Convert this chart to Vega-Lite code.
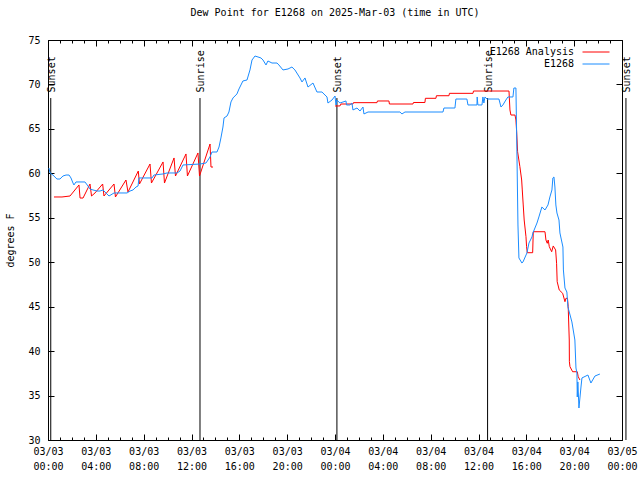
{
  "$schema": "https://vega.github.io/schema/vega-lite/v6.json",
  "width": 574,
  "height": 400,
  "autosize": "none",
  "padding": {"left": 48, "top": 40, "right": 18, "bottom": 40},
  "background": "white",
  "title": {"text": "Dew Point for E1268 on 2025-Mar-03 (time in UTC)", "font": "DejaVu Sans Mono", "fontSize": 10, "fontWeight": "normal", "anchor": "middle", "offset": 17, "color": "black"},
  "config": {
    "view": {"stroke": "black", "strokeWidth": 1},
    "axis": {"grid": false, "domain": false, "tickColor": "black", "tickWidth": 1, "labelColor": "black", "labelFont": "DejaVu Sans Mono", "labelFontSize": 10, "titleFont": "DejaVu Sans Mono", "titleFontSize": 10, "titleFontWeight": "normal", "titleColor": "black", "labelFlush": false, "labelOverlap": false, "labelBound": false},
    "legend": {"labelFont": "DejaVu Sans Mono", "labelFontSize": 10, "labelColor": "black"}
  },
  "datasets": {
    "sun": [
      {"t": 0.23, "label": "Sunset"},
      {"t": 12.71, "label": "Sunrise"},
      {"t": 24.16, "label": "Sunset"},
      {"t": 36.76, "label": "Sunrise"},
      {"t": 48.33, "label": "Sunset"}
    ],
    "ana": [
      {"seg": "a", "t": 0.50, "v": 57.34},
      {"seg": "a", "t": 1.17, "v": 57.34},
      {"seg": "a", "t": 1.84, "v": 57.45},
      {"seg": "a", "t": 2.59, "v": 58.69},
      {"seg": "a", "t": 2.68, "v": 57.22},
      {"seg": "a", "t": 2.93, "v": 57.22},
      {"seg": "a", "t": 3.51, "v": 58.80},
      {"seg": "a", "t": 3.64, "v": 57.45},
      {"seg": "a", "t": 3.93, "v": 57.79},
      {"seg": "a", "t": 4.57, "v": 58.80},
      {"seg": "a", "t": 4.68, "v": 57.45},
      {"seg": "a", "t": 5.52, "v": 58.80},
      {"seg": "a", "t": 5.64, "v": 57.34},
      {"seg": "a", "t": 6.52, "v": 59.25},
      {"seg": "a", "t": 6.69, "v": 57.90},
      {"seg": "a", "t": 7.55, "v": 60.26},
      {"seg": "a", "t": 7.65, "v": 58.80},
      {"seg": "a", "t": 8.53, "v": 61.05},
      {"seg": "a", "t": 8.65, "v": 58.91},
      {"seg": "a", "t": 9.62, "v": 61.28},
      {"seg": "a", "t": 9.74, "v": 58.91},
      {"seg": "a", "t": 10.54, "v": 61.73},
      {"seg": "a", "t": 10.66, "v": 59.70},
      {"seg": "a", "t": 11.54, "v": 62.18},
      {"seg": "a", "t": 11.66, "v": 59.70},
      {"seg": "a", "t": 12.54, "v": 62.29},
      {"seg": "a", "t": 12.67, "v": 59.70},
      {"seg": "a", "t": 13.55, "v": 63.30},
      {"seg": "a", "t": 13.63, "v": 60.71},
      {"seg": "a", "t": 13.80, "v": 60.71},
      {"seg": "b", "t": 24.00, "v": 67.58},
      {"seg": "b", "t": 24.41, "v": 67.58},
      {"seg": "b", "t": 24.50, "v": 67.80},
      {"seg": "b", "t": 25.50, "v": 67.80},
      {"seg": "b", "t": 25.54, "v": 67.95},
      {"seg": "b", "t": 27.51, "v": 67.95},
      {"seg": "b", "t": 27.55, "v": 68.14},
      {"seg": "b", "t": 28.51, "v": 68.14},
      {"seg": "b", "t": 28.55, "v": 67.80},
      {"seg": "b", "t": 30.52, "v": 67.80},
      {"seg": "b", "t": 30.56, "v": 67.97},
      {"seg": "b", "t": 31.52, "v": 67.97},
      {"seg": "b", "t": 31.56, "v": 68.44},
      {"seg": "b", "t": 32.44, "v": 68.44},
      {"seg": "b", "t": 32.48, "v": 68.73},
      {"seg": "b", "t": 33.53, "v": 68.73},
      {"seg": "b", "t": 33.57, "v": 69.00},
      {"seg": "b", "t": 35.54, "v": 69.00},
      {"seg": "b", "t": 35.58, "v": 69.26},
      {"seg": "b", "t": 38.55, "v": 69.26},
      {"seg": "b", "t": 38.63, "v": 67.13},
      {"seg": "b", "t": 38.71, "v": 66.56},
      {"seg": "b", "t": 39.05, "v": 66.56},
      {"seg": "b", "t": 39.13, "v": 66.00},
      {"seg": "b", "t": 39.19, "v": 64.68},
      {"seg": "b", "t": 39.27, "v": 62.43},
      {"seg": "b", "t": 39.46, "v": 60.75},
      {"seg": "b", "t": 39.61, "v": 59.25},
      {"seg": "b", "t": 39.66, "v": 58.13},
      {"seg": "b", "t": 39.74, "v": 56.44},
      {"seg": "b", "t": 39.82, "v": 54.75},
      {"seg": "b", "t": 39.97, "v": 52.87},
      {"seg": "b", "t": 40.02, "v": 51.75},
      {"seg": "b", "t": 40.08, "v": 51.07},
      {"seg": "b", "t": 40.53, "v": 51.07},
      {"seg": "b", "t": 40.58, "v": 53.43},
      {"seg": "b", "t": 41.56, "v": 53.43},
      {"seg": "b", "t": 41.64, "v": 52.50},
      {"seg": "b", "t": 41.75, "v": 52.13},
      {"seg": "b", "t": 41.83, "v": 52.50},
      {"seg": "b", "t": 41.92, "v": 51.75},
      {"seg": "b", "t": 42.12, "v": 51.18},
      {"seg": "b", "t": 42.25, "v": 51.83},
      {"seg": "b", "t": 42.45, "v": 51.38},
      {"seg": "b", "t": 42.53, "v": 49.88},
      {"seg": "b", "t": 42.58, "v": 47.81},
      {"seg": "b", "t": 42.75, "v": 46.88},
      {"seg": "b", "t": 43.04, "v": 46.50},
      {"seg": "b", "t": 43.23, "v": 45.56},
      {"seg": "b", "t": 43.31, "v": 45.94},
      {"seg": "b", "t": 43.44, "v": 45.94},
      {"seg": "b", "t": 43.50, "v": 45.00},
      {"seg": "b", "t": 43.59, "v": 41.25},
      {"seg": "b", "t": 43.60, "v": 38.81},
      {"seg": "b", "t": 43.65, "v": 38.25},
      {"seg": "b", "t": 43.87, "v": 37.68},
      {"seg": "b", "t": 44.26, "v": 37.68},
      {"seg": "b", "t": 44.34, "v": 37.12},
      {"seg": "b", "t": 44.48, "v": 36.75}
    ],
    "obs": [
      {"t": 0.08, "v": 60.6}, {"t": 0.17, "v": 60.04}, {"t": 0.42, "v": 59.8}, {"t": 0.75, "v": 59.36},
      {"t": 1.00, "v": 59.36}, {"t": 1.25, "v": 59.7}, {"t": 1.51, "v": 59.81}, {"t": 1.76, "v": 59.81},
      {"t": 1.92, "v": 59.48}, {"t": 2.09, "v": 58.91}, {"t": 2.17, "v": 58.69}, {"t": 2.34, "v": 59.03},
      {"t": 3.09, "v": 59.03}, {"t": 3.34, "v": 58.58}, {"t": 3.51, "v": 58.24}, {"t": 3.76, "v": 58.13},
      {"t": 4.10, "v": 58.01}, {"t": 4.35, "v": 58.01}, {"t": 4.60, "v": 58.13}, {"t": 4.85, "v": 57.79},
      {"t": 5.10, "v": 57.45}, {"t": 5.52, "v": 57.79}, {"t": 6.02, "v": 57.79}, {"t": 6.61, "v": 57.79},
      {"t": 6.86, "v": 58.01}, {"t": 7.11, "v": 58.13}, {"t": 7.36, "v": 58.46}, {"t": 7.53, "v": 58.58},
      {"t": 7.61, "v": 59.48}, {"t": 8.70, "v": 59.48}, {"t": 8.86, "v": 59.81}, {"t": 9.62, "v": 59.93},
      {"t": 9.95, "v": 60.04}, {"t": 10.79, "v": 60.04}, {"t": 11.04, "v": 60.26}, {"t": 11.29, "v": 60.94},
      {"t": 12.71, "v": 61.05}, {"t": 13.21, "v": 61.16}, {"t": 13.38, "v": 61.5}, {"t": 13.55, "v": 61.84},
      {"t": 13.71, "v": 62.4}, {"t": 14.13, "v": 62.4}, {"t": 14.30, "v": 62.96}, {"t": 14.46, "v": 63.98},
      {"t": 14.63, "v": 65.21}, {"t": 14.72, "v": 66.23}, {"t": 14.97, "v": 66.45}, {"t": 15.13, "v": 66.9},
      {"t": 15.30, "v": 68.03}, {"t": 15.47, "v": 68.48}, {"t": 15.80, "v": 68.93}, {"t": 15.97, "v": 69.49},
      {"t": 16.30, "v": 70.39}, {"t": 16.64, "v": 70.5}, {"t": 16.89, "v": 71.63}, {"t": 17.06, "v": 72.75},
      {"t": 17.31, "v": 73.2}, {"t": 17.56, "v": 73.09}, {"t": 17.81, "v": 72.98}, {"t": 17.98, "v": 72.75},
      {"t": 18.23, "v": 72.19}, {"t": 18.39, "v": 72.64}, {"t": 18.73, "v": 72.41}, {"t": 19.15, "v": 72.41},
      {"t": 19.31, "v": 72.19}, {"t": 19.65, "v": 71.63}, {"t": 20.07, "v": 71.74}, {"t": 20.40, "v": 71.96},
      {"t": 20.65, "v": 71.63}, {"t": 21.07, "v": 70.73}, {"t": 21.24, "v": 70.28}, {"t": 21.49, "v": 70.73},
      {"t": 21.74, "v": 69.71}, {"t": 22.16, "v": 70.16}, {"t": 22.49, "v": 69.15}, {"t": 22.91, "v": 69.15},
      {"t": 23.33, "v": 68.59}, {"t": 23.41, "v": 67.91}, {"t": 23.75, "v": 68.25}, {"t": 24.00, "v": 68.7},
      {"t": 24.08, "v": 67.69}, {"t": 24.16, "v": 68.25}, {"t": 24.41, "v": 67.91}, {"t": 24.92, "v": 68.14},
      {"t": 24.96, "v": 67.69}, {"t": 25.25, "v": 67.69}, {"t": 25.42, "v": 67.91}, {"t": 25.50, "v": 67.13},
      {"t": 25.84, "v": 67.35}, {"t": 26.09, "v": 67.01}, {"t": 26.34, "v": 67.46}, {"t": 26.42, "v": 66.68},
      {"t": 26.76, "v": 66.9}, {"t": 29.43, "v": 66.9}, {"t": 29.60, "v": 66.68}, {"t": 29.85, "v": 66.9},
      {"t": 33.03, "v": 66.9}, {"t": 33.11, "v": 67.35}, {"t": 34.03, "v": 67.35}, {"t": 34.11, "v": 68.36},
      {"t": 35.03, "v": 68.36}, {"t": 35.12, "v": 67.69}, {"t": 35.87, "v": 67.69}, {"t": 35.89, "v": 68.59},
      {"t": 35.95, "v": 67.69}, {"t": 36.29, "v": 67.69}, {"t": 36.37, "v": 68.59}, {"t": 36.45, "v": 67.91},
      {"t": 36.54, "v": 68.59}, {"t": 36.71, "v": 68.36}, {"t": 37.71, "v": 68.36}, {"t": 37.88, "v": 67.46},
      {"t": 38.04, "v": 67.69}, {"t": 38.29, "v": 68.25}, {"t": 38.46, "v": 68.59}, {"t": 38.88, "v": 68.59},
      {"t": 38.96, "v": 69.6}, {"t": 39.13, "v": 69.6}, {"t": 39.21, "v": 62.63}, {"t": 39.30, "v": 54.19},
      {"t": 39.38, "v": 50.48}, {"t": 39.63, "v": 49.91}, {"t": 39.72, "v": 50.03}, {"t": 40.05, "v": 51.04},
      {"t": 40.22, "v": 52.16}, {"t": 40.47, "v": 52.84}, {"t": 40.55, "v": 53.29}, {"t": 40.89, "v": 54.41},
      {"t": 41.05, "v": 55.09}, {"t": 41.30, "v": 56.21}, {"t": 41.56, "v": 55.88}, {"t": 41.81, "v": 56.44},
      {"t": 41.97, "v": 57.34}, {"t": 42.14, "v": 58.13}, {"t": 42.22, "v": 59.48}, {"t": 42.31, "v": 59.59},
      {"t": 42.39, "v": 58.46}, {"t": 42.47, "v": 56.44}, {"t": 42.56, "v": 55.54}, {"t": 42.73, "v": 54.75},
      {"t": 42.81, "v": 53.29}, {"t": 43.06, "v": 51.71}, {"t": 43.10, "v": 49.13}, {"t": 43.23, "v": 47.1},
      {"t": 43.39, "v": 46.65}, {"t": 43.48, "v": 44.96}, {"t": 43.81, "v": 43.28}, {"t": 44.06, "v": 41.25},
      {"t": 44.15, "v": 38.1}, {"t": 44.23, "v": 37.54}, {"t": 44.26, "v": 34.84}, {"t": 44.31, "v": 36.53},
      {"t": 44.40, "v": 33.6}, {"t": 44.57, "v": 35.96}, {"t": 44.65, "v": 36.98}, {"t": 45.15, "v": 37.31},
      {"t": 45.40, "v": 36.41}, {"t": 45.74, "v": 37.2}, {"t": 46.15, "v": 37.42}
    ]
  },
  "layer": [
    {
      "data": {"name": "sun"},
      "mark": {"type": "rule", "color": "black", "strokeWidth": 1},
      "encoding": {
        "x": {"field": "t", "type": "quantitative", "scale": {"domain": [0, 48], "nice": false, "zero": false},
          "axis": {"orient": "bottom", "title": null, "values": [0, 4, 8, 12, 16, 20, 24, 28, 32, 36, 40, 44, 48], "tickSize": -6, "labelPadding": 12, "labelLineHeight": 15, "labelBaseline": "top",
            "labelExpr": "['03/0' + (3 + floor(datum.value / 24)), ((datum.value % 24) < 10 ? '0' : '') + (datum.value % 24) + ':00']"}},
        "y": {"datum": 68.47, "type": "quantitative", "scale": {"domain": [30, 75], "nice": false, "zero": false},
          "axis": {"orient": "left", "values": [30, 35, 40, 45, 50, 55, 60, 65, 70, 75], "tickSize": -6, "labelPadding": 14, "title": "degrees F", "titleAngle": 270, "titleX": -38, "titleY": 200, "titleAlign": "center", "titleBaseline": "middle"}},
        "y2": {"datum": 30}
      }
    },
    {
      "data": {"name": "sun"},
      "mark": {"type": "text", "angle": 270, "align": "left", "baseline": "middle", "font": "DejaVu Sans Mono", "fontSize": 10, "color": "black", "dy": 1},
      "encoding": {
        "x": {"field": "t", "type": "quantitative",
          "axis": {"orient": "bottom", "title": null, "labels": false, "tickSize": -3, "values": [0,1,2,3,4,5,6,7,8,9,10,11,12,13,14,15,16,17,18,19,20,21,22,23,24,25,26,27,28,29,30,31,32,33,34,35,36,37,38,39,40,41,42,43,44,45,46,47,48]}},
        "y": {"datum": 69.1, "type": "quantitative",
          "axis": {"orient": "right", "title": null, "labels": false, "tickSize": -6, "values": [30, 35, 40, 45, 50, 55, 60, 65, 70, 75]}},
        "text": {"field": "label"}
      }
    },
    {
      "data": {"name": "ana"},
      "mark": {"type": "line", "strokeWidth": 1, "interpolate": "linear"},
      "encoding": {
        "x": {"field": "t", "type": "quantitative",
          "axis": {"orient": "top", "title": null, "labels": false, "tickSize": -6, "values": [0, 4, 8, 12, 16, 20, 24, 28, 32, 36, 40, 44, 48]}},
        "y": {"field": "v", "type": "quantitative", "axis": null},
        "detail": {"field": "seg"},
        "color": {"datum": "E1268 Analysis", "type": "nominal",
          "scale": {"domain": ["E1268 Analysis", "E1268"], "range": ["#ff0000", "#1a8cff"]},
          "legend": {"title": null, "orient": "none", "legendX": 543, "legendY": 7, "padding": 0, "symbolType": "M-3,0H3", "symbolSize": 81, "symbolStrokeWidth": 1, "labelAlign": "right", "labelOffset": -27, "rowPadding": 2}}
      }
    },
    {
      "data": {"name": "obs"},
      "mark": {"type": "line", "strokeWidth": 1, "interpolate": "linear"},
      "encoding": {
        "x": {"field": "t", "type": "quantitative",
          "axis": {"orient": "top", "title": null, "labels": false, "tickSize": -3, "values": [0,1,2,3,4,5,6,7,8,9,10,11,12,13,14,15,16,17,18,19,20,21,22,23,24,25,26,27,28,29,30,31,32,33,34,35,36,37,38,39,40,41,42,43,44,45,46,47,48]}},
        "y": {"field": "v", "type": "quantitative", "axis": null},
        "color": {"datum": "E1268", "type": "nominal"}
      }
    }
  ],
  "resolve": {"axis": {"x": "independent", "y": "independent"}}
}
